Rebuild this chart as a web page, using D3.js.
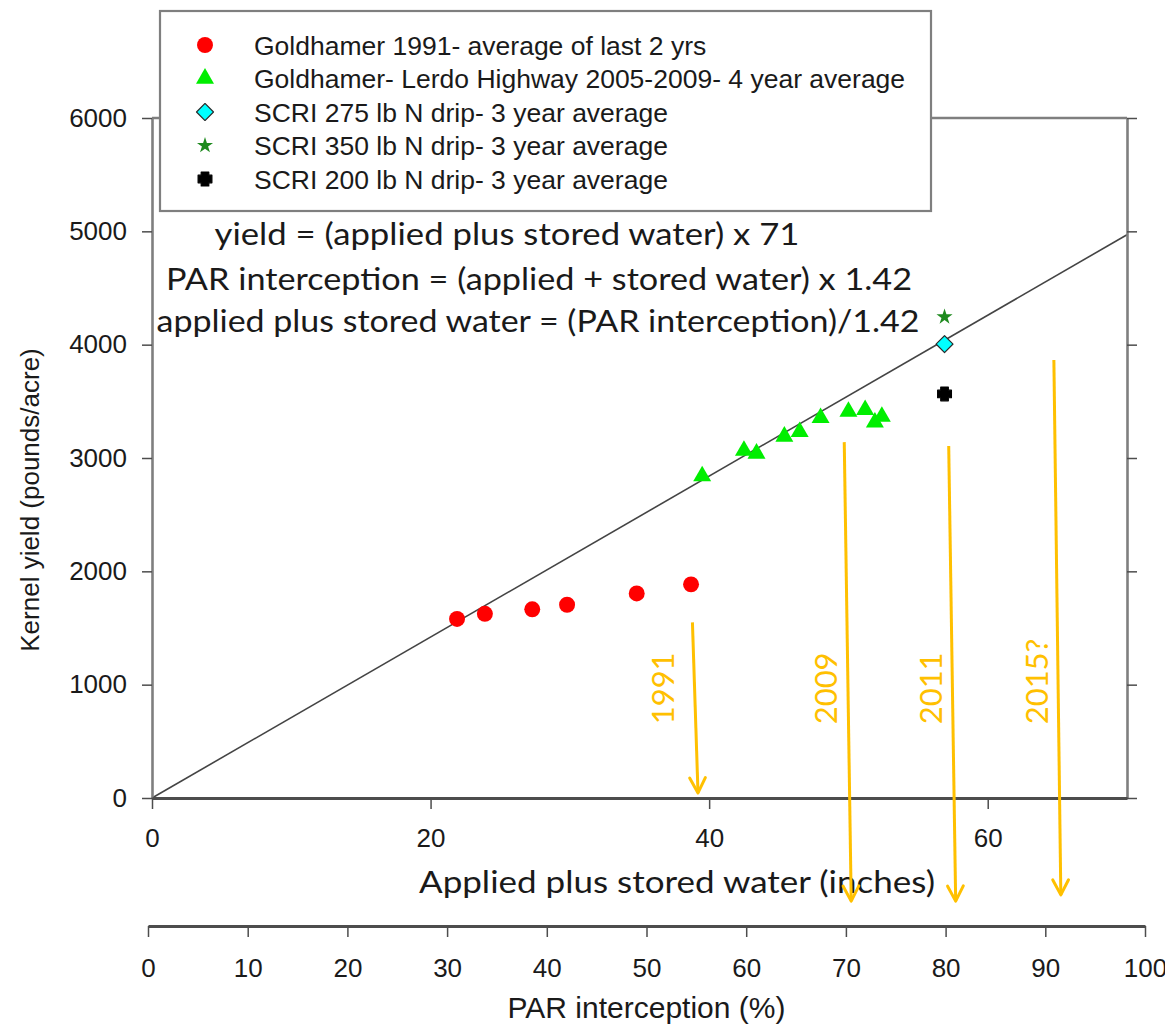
<!DOCTYPE html>
<html>
<head>
<meta charset="utf-8">
<script src="https://cdn.jsdelivr.net/npm/d3@7"></script>
<style>
  html, body { margin: 0; padding: 0; background: #fff; }
  svg { display: block; }
</style>
</head>
<body>
<div id="chart"></div>
<script>
// Goldhamer 1991 - average of last 2 yrs
const g1991Water = [21.9, 23.9, 27.3, 29.8, 34.8, 38.7];
const g1991Yield = [1580, 1625, 1665, 1705, 1805, 1885];

// Goldhamer - Lerdo Highway 2005-2009
const lerdoWater = [39.5, 42.5, 43.4, 45.4, 46.5, 48.0, 50.0, 51.2, 51.9, 52.4];
const lerdoYield = [2840, 3065, 3040, 3190, 3230, 3355, 3410, 3425, 3315, 3365];

// SCRI drip treatments (all at the same water)
const scriWater = [56.9];
const scri275Yield = [4005];
const scri350Yield = [4245];
const scri200Yield = [3565];

// yield = water x 71, PAR = water x 1.42
const yieldPerInch = 71;
const lineWater = [0, 70];

const yTicks = [0, 1000, 2000, 3000, 4000, 5000, 6000];
const xTicks = [0, 20, 40, 60];
const parTicks = [0, 10, 20, 30, 40, 50, 60, 70, 80, 90, 100];

const legendLabels = [
  'Goldhamer 1991- average of last 2 yrs',
  'Goldhamer- Lerdo Highway 2005-2009- 4 year average',
  'SCRI 275 lb N drip- 3 year average',
  'SCRI 350 lb N drip- 3 year average',
  'SCRI 200 lb N drip- 3 year average',
];

const equations = [
  'yield = (applied plus stored water) x 71',
  'PAR interception = (applied + stored water) x 1.42',
  'applied plus stored water = (PAR interception)/1.42',
];

// year arrows, in water (inches) / yield units
const arrowYears = ['1991', '2009', '2011', '2015?'];
const arrowX1 = [38.8, 49.7, 57.2, 64.75];
const arrowY1 = [1550, 3140, 3105, 3865];
const arrowX2 = [39.2, 50.2, 57.7, 65.25];
const arrowY2 = [45, -910, -910, -855];
const arrowLabelX = [36.7, 48.35, 55.9, 63.5];
const arrowLabelY = 650;

const W = 1165, H = 1032;
const svg = d3.select('#chart').append('svg').attr('width', W).attr('height', H);

const x = d3.scaleLinear().domain([0, 70]).range([152, 1127]);
const y = d3.scaleLinear().domain([0, 6000]).range([798, 118]);
const par = d3.scaleLinear().domain([0, 100]).range([148, 1145]);

const arial = '"Liberation Sans", Arial, sans-serif';
const calibri = 'Lato, "Open Sans", sans-serif';
const textColor = '#1a1a1a';
const orange = '#FFC000';

// marker shapes
const plusShape = {
  draw(ctx, size) {
    const b = Math.sqrt(size) / 2, a = b * 0.55;
    ctx.moveTo(-a, -b); ctx.lineTo(a, -b); ctx.lineTo(a, -a); ctx.lineTo(b, -a);
    ctx.lineTo(b, a); ctx.lineTo(a, a); ctx.lineTo(a, b); ctx.lineTo(-a, b);
    ctx.lineTo(-a, a); ctx.lineTo(-b, a); ctx.lineTo(-b, -a); ctx.lineTo(-a, -a);
    ctx.closePath();
  },
};

const series = [
  { water: g1991Water, yield: g1991Yield, type: d3.symbolCircle, size: 200, fill: '#ff0000', stroke: 'none', rot: 0 },
  { water: lerdoWater, yield: lerdoYield, type: d3.symbolTriangle, size: 140, fill: '#00ee00', stroke: 'none', rot: 0 },
  { water: scriWater, yield: scri275Yield, type: d3.symbolSquare, size: 144, fill: '#00ffff', stroke: '#2a2a2a', rot: 45 },
  { water: scriWater, yield: scri350Yield, type: d3.symbolStar, size: 80, fill: '#1e8a1e', stroke: 'none', rot: 0 },
  { water: scriWater, yield: scri200Yield, type: plusShape, size: 190, fill: '#000', stroke: '#000', rot: 0 },
];

// regression line
svg.append('line')
  .attr('x1', x(lineWater[0])).attr('y1', y(lineWater[0] * yieldPerInch))
  .attr('x2', x(lineWater[1])).attr('y2', y(lineWater[1] * yieldPerInch))
  .attr('stroke', '#444').attr('stroke-width', 1.6);

// points
series.forEach((s) => {
  svg.append('g').selectAll('path')
    .data(s.water.map((w, i) => [w, s.yield[i]]))
    .join('path')
    .attr('d', d3.symbol(s.type, s.size))
    .attr('transform', (d) => `translate(${x(d[0])},${y(d[1])}) rotate(${s.rot})`)
    .attr('fill', s.fill)
    .attr('stroke', s.stroke)
    .attr('stroke-width', 1.2)
    .attr('stroke-linejoin', 'round');
});

// axes
const axisGray = '#7f7f7f';
const darkGray = '#4d4d4d';

const yAxis = svg.append('g').attr('transform', `translate(${x(0)},0)`)
  .call(d3.axisLeft(y).tickValues(yTicks).tickFormat(d3.format('d'))
    .tickSize(10).tickSizeOuter(0).tickPadding(15));
yAxis.select('.domain').attr('stroke', axisGray).attr('stroke-width', 2.6);
yAxis.selectAll('.tick line').attr('stroke', darkGray).attr('stroke-width', 1.5);
yAxis.selectAll('text').attr('font-family', arial).attr('font-size', 26).attr('fill', textColor);

const rAxis = svg.append('g').attr('transform', `translate(${x(70)},0)`)
  .call(d3.axisRight(y).tickValues(yTicks).tickSize(10).tickSizeOuter(0).tickFormat(''));
rAxis.select('.domain').attr('stroke', axisGray).attr('stroke-width', 2.6);
rAxis.selectAll('.tick line').attr('stroke', darkGray).attr('stroke-width', 1.5);

// top frame
svg.append('line')
  .attr('x1', x(0)).attr('x2', x(70)).attr('y1', y(6000)).attr('y2', y(6000))
  .attr('stroke', axisGray).attr('stroke-width', 2.4);

const xAxis = svg.append('g').attr('transform', `translate(0,${y(0)})`)
  .call(d3.axisBottom(x).tickValues(xTicks).tickSize(11).tickSizeOuter(0).tickPadding(20));
xAxis.select('.domain').attr('stroke', darkGray).attr('stroke-width', 2.8);
xAxis.selectAll('.tick line').attr('stroke', darkGray).attr('stroke-width', 1.5);
xAxis.selectAll('text').attr('font-family', arial).attr('font-size', 26).attr('fill', textColor);

const parAxis = svg.append('g').attr('transform', 'translate(0,926)')
  .call(d3.axisBottom(par).tickValues(parTicks).tickSize(11).tickSizeOuter(0).tickPadding(22));
parAxis.select('.domain').attr('stroke', darkGray).attr('stroke-width', 2.8);
parAxis.selectAll('.tick line').attr('stroke', darkGray).attr('stroke-width', 1.5);
parAxis.selectAll('text').attr('font-family', arial).attr('font-size', 26).attr('fill', textColor);

// axis titles
svg.append('text')
  .attr('transform', 'translate(30,500) rotate(-90)')
  .attr('text-anchor', 'middle').attr('dy', '0.35em')
  .attr('font-family', arial).attr('font-size', 26).attr('fill', textColor)
  .text('Kernel yield (pounds/acre)');

svg.append('text')
  .attr('x', 677).attr('y', 893).attr('text-anchor', 'middle')
  .attr('font-family', calibri).attr('font-size', 30).attr('fill', textColor)
  .attr('textLength', 516).attr('lengthAdjust', 'spacingAndGlyphs')
  .text('Applied plus stored water (inches)');

svg.append('text')
  .attr('x', par(50)).attr('y', 1018).attr('text-anchor', 'middle')
  .attr('font-family', arial).attr('font-size', 30).attr('fill', textColor)
  .text('PAR interception (%)');

// year arrows
const arrows = svg.append('g');
arrowYears.forEach((yr, i) => {
  const x1 = x(arrowX1[i]), y1 = y(arrowY1[i]);
  const x2 = x(arrowX2[i]), y2 = y(arrowY2[i]);
  const ang = Math.atan2(y2 - y1, x2 - x1);
  const hl = 17, hw = 0.48;
  arrows.append('line')
    .attr('x1', x1).attr('y1', y1).attr('x2', x2).attr('y2', y2)
    .attr('stroke', orange).attr('stroke-width', 3);
  arrows.append('path')
    .attr('d', `M${x2 - hl * Math.cos(ang - hw)},${y2 - hl * Math.sin(ang - hw)}L${x2},${y2}L${x2 - hl * Math.cos(ang + hw)},${y2 - hl * Math.sin(ang + hw)}`)
    .attr('fill', 'none').attr('stroke', orange).attr('stroke-width', 3)
    .attr('stroke-linecap', 'round').attr('stroke-linejoin', 'round');
  arrows.append('text')
    .attr('transform', `translate(${x(arrowLabelX[i])},${y(arrowLabelY)}) rotate(-90)`)
    .attr('dy', '0.36em')
    .attr('font-family', calibri).attr('font-size', 31).attr('fill', orange)
    .text(yr);
});

// legend
const legend = svg.append('g');
legend.append('rect')
  .attr('x', 160).attr('y', 11).attr('width', 771).attr('height', 200)
  .attr('fill', '#fff').attr('stroke', axisGray).attr('stroke-width', 2.2);

legendLabels.forEach((label, i) => {
  const s = series[i];
  const ly = 45 + i * 33.5;
  legend.append('path')
    .attr('d', d3.symbol(s.type, s.size))
    .attr('transform', `translate(205,${ly}) rotate(${s.rot})`)
    .attr('fill', s.fill).attr('stroke', s.stroke).attr('stroke-width', 1.2)
    .attr('stroke-linejoin', 'round');
  legend.append('text')
    .attr('x', 254).attr('y', ly).attr('dy', '0.36em')
    .attr('font-family', arial).attr('font-size', 26.5).attr('fill', textColor)
    .text(label);
});

// equations
const eqCenter = [507, 539, 538];
const eqBase = [245, 290, 332];
const eqWidth = [585, 746, 763];
equations.forEach((t, i) => {
  svg.append('text')
    .attr('x', eqCenter[i]).attr('y', eqBase[i]).attr('text-anchor', 'middle')
    .attr('font-family', calibri).attr('font-size', 30).attr('fill', textColor)
    .attr('textLength', eqWidth[i]).attr('lengthAdjust', 'spacingAndGlyphs')
    .text(t);
});
</script>
</body>
</html>
